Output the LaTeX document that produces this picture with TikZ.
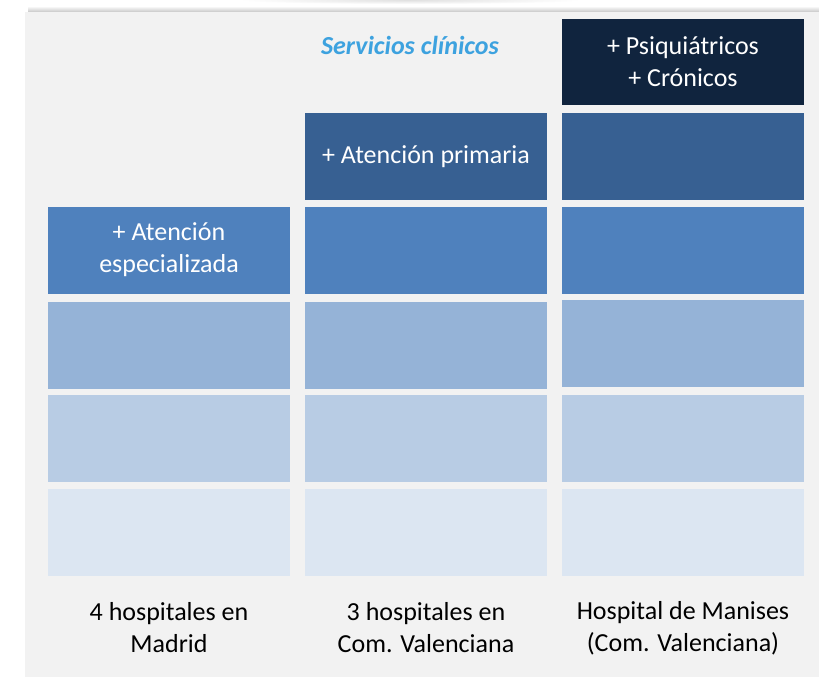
\documentclass[tikz,border=0pt]{standalone}
\usepackage{fontspec}
\setmainfont{Carlito}
\definecolor{panel}{HTML}{F2F2F2}
\definecolor{navy}{HTML}{10243E}
\definecolor{cA}{HTML}{376092}
\definecolor{cB}{HTML}{4F81BD}
\definecolor{cC}{HTML}{95B3D7}
\definecolor{cD}{HTML}{B8CCE4}
\definecolor{cE}{HTML}{DCE6F2}
\definecolor{titleblue}{HTML}{3DA2DF}
\tikzset{
  cell/.style={draw=none, inner sep=0pt, text=white, align=center, font=\fontsize{26}{32}\selectfont},
  lab/.style={inner sep=0pt, text=black, align=center, font=\fontsize{26}{32}\selectfont},
}
\begin{document}
\begin{tikzpicture}[x=1pt,y=-1pt]
\useasboundingbox (0,0) rectangle (819,677);
\fill[white] (0,0) rectangle (819,677);
% shadow
\shade[top color=white, bottom color=black!22] (28,6) rectangle (819,12);
\shade[inner color=black!12, outer color=white] (410,0) ellipse (170 and 4);
\fill[panel] (25,12) rectangle (819,677);
% column 1
\fill[cE] (48,489) rectangle (290,576);
\fill[cD] (48,395) rectangle (290,482);
\fill[cC] (48,302) rectangle (290,389);
\fill[cB] (48,207) rectangle (290,294);
% column 2
\fill[cE] (305,489) rectangle (547,576);
\fill[cD] (305,395) rectangle (547,482);
\fill[cC] (305,302) rectangle (547,389);
\fill[cB] (305,207) rectangle (547,294);
\fill[cA] (305,113) rectangle (547,200);
% column 3
\fill[cE] (562,489) rectangle (804,576);
\fill[cD] (562,395) rectangle (804,482);
\fill[cC] (562,300) rectangle (804,387);
\fill[cB] (562,207) rectangle (804,294);
\fill[cA] (562,113) rectangle (804,200);
\fill[navy] (562,19) rectangle (804,105);
% texts
\node[cell] (spec) at (169,250) {+ Atención\\especializada};
\node[cell] (prim) at (426,156.5) {+ Atención primaria};
\node[cell] (psiq) at (683,62) {+ Psiquiátricos\\+ Crónicos};
\node[inner sep=0pt, text=titleblue, font=\fontsize{26}{32}\selectfont\bfseries\itshape] (title) at (410,45) {Servicios clínicos};
\node[lab] (l1) at (169,628) {4 hospitales en\\Madrid};
\node[lab] (l2) at (426,628) {3 hospitales en\\Com. Valenciana};
\node[lab] (l3) at (683,628) {Hospital de Manises\\(Com. Valenciana)};
\end{tikzpicture}
\end{document}
